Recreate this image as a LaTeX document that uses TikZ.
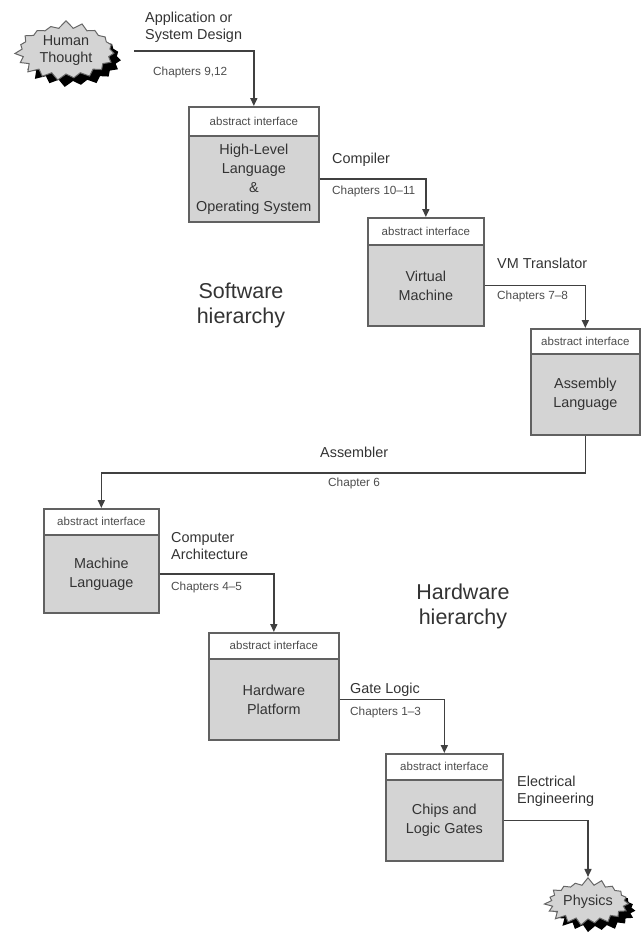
\documentclass[tikz,border=0pt]{standalone}
\usepackage{fontspec}
\setmainfont{Liberation Sans}
\usetikzlibrary{positioning,shapes.symbols,shadows,arrows.meta}

\begin{document}
\begin{tikzpicture}[x=1pt,y=-1pt]%
  \tikzstyle{hdrn}=[rectangle,draw=black!62,line width=1.7pt,fill=white,anchor=north west,minimum height=27pt,inner sep=0pt,text=black!70,font=\fontsize{11.5}{13}\selectfont]
  \tikzstyle{bodyn}=[rectangle,draw=black!62,line width=1.7pt,fill=black!17,minimum height=81pt,inner sep=0pt,align=center,text=black!80,font=\fontsize{14.4}{19}\selectfont]
  \tikzstyle{burstn}=[starburst,starburst points=19,starburst point height=8pt,random starburst=7,draw=black!60,line width=1pt,fill=black!17,drop shadow={shadow xshift=7pt,shadow yshift=-7pt,fill=black,opacity=1},align=center,text=black!80,font=\fontsize{14.4}{17}\selectfont,inner sep=1pt]
  \tikzstyle{lbl}=[anchor=west,align=left,text=black!80,font=\fontsize{14.4}{17}\selectfont,inner sep=0pt]
  \tikzstyle{chap}=[anchor=west,text=black!70,font=\fontsize{11.8}{14}\selectfont,inner sep=0pt]
  \tikzstyle{hiern}=[align=center,text=black!80,font=\fontsize{21.5}{25}\selectfont,inner sep=0pt]
  \tikzstyle{arr}=[draw=black!75,line width=1.6pt,-{Triangle[length=8pt,width=7pt]}]
  \useasboundingbox (0,0) rectangle (641,938);
  % the two ends
  \node (ht)[burstn,minimum width=104pt,minimum height=62pt] at (66,51) {Human\\Thought};
  \node (ph)[burstn,minimum width=88pt,minimum height=50pt] at (588,902) {Physics};
  % the six levels
  \node (hlh)[hdrn,minimum width=130pt,minimum height=29pt] at (188,106) {abstract interface};
  \node (hl)[bodyn,minimum width=130pt,minimum height=86pt,below=-1.7pt of hlh] {High-Level\\Language\\\&\\Operating System};
  \node (vmh)[hdrn,minimum width=116pt] at (367,217) {abstract interface};
  \node (vm)[bodyn,minimum width=116pt,below=-1.7pt of vmh] {Virtual\\Machine};
  \node (asmh)[hdrn,minimum width=109pt,minimum height=25pt] at (530,328) {abstract interface};
  \node (asm)[bodyn,minimum width=109pt,below=-1.7pt of asmh] {Assembly\\Language};
  \node (mlh)[hdrn,minimum width=115pt,minimum height=26pt] at (43,508) {abstract interface};
  \node (ml)[bodyn,minimum width=115pt,minimum height=78pt,below=-1.7pt of mlh] {Machine\\Language};
  \node (hwh)[hdrn,minimum width=130pt,minimum height=26pt] at (208,632) {abstract interface};
  \node (hw)[bodyn,minimum width=130pt,below=-1.7pt of hwh] {Hardware\\Platform};
  \node (cgh)[hdrn,minimum width=117pt,minimum height=26pt] at (385,753) {abstract interface};
  \node (cg)[bodyn,minimum width=117pt,below=-1.7pt of cgh] {Chips and\\Logic Gates};
  % translators
  \draw[arr] ([xshift=22pt]ht.east) -| (hlh.north);
  \draw[arr] (hl.east) -| (vmh.north);
  \draw[arr] (vm.east) -| (asmh.north);
  \draw[arr] (asm.south) -- ++(0,37) -| (mlh.north);
  \draw[arr] (ml.east) -| (hwh.north);
  \draw[arr] (hw.east) -| (cgh.north);
  \draw[arr] (cg.east) -| (ph.north);
  % labels
  \node (appl)[lbl] at (145,27) {Application or\\System Design};
  \node (ch912)[chap] at (153,72) {Chapters 9,12};
  \node (comp)[lbl] at (332,160) {Compiler};
  \node (ch1011)[chap] at (332,191) {Chapters 10--11};
  \node (vmt)[lbl] at (497,263) {VM Translator};
  \node (ch78)[chap] at (497,296) {Chapters 7--8};
  \node (assm)[lbl] at (320,452) {Assembler};
  \node (ch6)[chap] at (328,483) {Chapter 6};
  \node (carch)[lbl] at (171,546) {Computer\\Architecture};
  \node (ch45)[chap] at (171,587) {Chapters 4--5};
  \node (gate)[lbl] at (350,690) {Gate Logic};
  \node (ch13)[chap] at (350,712) {Chapters 1--3};
  \node (elec)[lbl] at (517,791) {Electrical\\Engineering};
  \node (soft)[hiern] at (241,305) {Software\\hierarchy};
  \node (hard)[hiern] at (463,606) {Hardware\\hierarchy};
\end{tikzpicture}
\end{document}
